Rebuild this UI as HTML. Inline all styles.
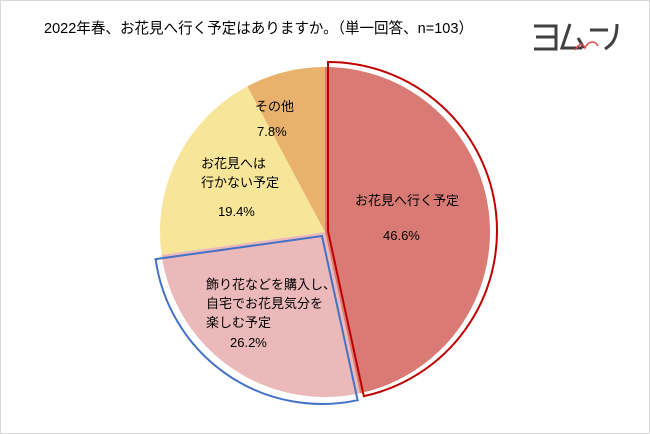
<!DOCTYPE html>
<html><head><meta charset="utf-8"><style>
body{margin:0;background:#fff;}
svg{display:block;font-family:"Liberation Sans","Noto Sans CJK JP",sans-serif;}
</style></head><body>
<svg id="c" width="650" height="434">
<rect x="0.5" y="0.5" width="649" height="433" fill="#fff" stroke="#d9d9d9"/>
<text x="44" y="33" font-size="15" fill="#000" textLength="429" lengthAdjust="spacingAndGlyphs">2022年春、お花見へ行く予定はありますか。（単一回答、n=103）</text>
<g fill="none" stroke="#404040" stroke-width="3">
<path d="M534 26h22v23h-22M536 37h20"/>
<path d="M570 24l-8 24h20M578 38l6 10"/>
<path d="M590 30h18"/>
<path d="M617 24c0 14-4 20-12 25"/>
<path d="M575 50c4-7 8-7 10-2c3-7 10-8 13-2" stroke="#d94c4c" stroke-width="1.5"/>
</g>
<g id="pie"></g>
</svg>
<script>
const categories=["お花見へ行く予定","飾り花などを購入し、自宅でお花見気分を楽しむ予定","お花見へは行かない予定","その他"];
const values=[46.6,26.2,19.4,7.8];
const colors=["#d97b74","#ebb9b9","#f7e59a","#e8b26c"];
const cx=325,cy=232,r=165;
const g=document.getElementById('pie');
const NS="http://www.w3.org/2000/svg";
function pt(x,y,rr,a){return [x+rr*Math.sin(a),y-rr*Math.cos(a)];}
function wedge(x,y,rr,a0,a1){const p0=pt(x,y,rr,a0),p1=pt(x,y,rr,a1);const lg=(a1-a0)>Math.PI?1:0;
return `M${x},${y}L${p0[0]},${p0[1]}A${rr},${rr} 0 ${lg} 1 ${p1[0]},${p1[1]}Z`;}
const total=values.reduce((a,b)=>a+b,0);
let acc=0;const angs=[];
values.forEach((v,i)=>{const a0=acc/total*2*Math.PI;acc+=v;const a1=acc/total*2*Math.PI;angs.push([a0,a1]);
const p=document.createElementNS(NS,'path');p.setAttribute('d',wedge(cx,cy,r,a0,a1));p.setAttribute('fill',colors[i]);


g.appendChild(p);});
const outl=[[0,"#c00000",3,-1,4],[1,"#4472c4",-3,4,3]];
outl.forEach(o=>{const [a0,a1]=angs[o[0]];const p=document.createElementNS(NS,'path');
p.setAttribute('d',wedge(cx+o[2],cy+o[3],r+o[4],a0,a1));p.setAttribute('fill','none');p.setAttribute('stroke',o[1]);p.setAttribute('stroke-width','2');


g.appendChild(p);});
const labels=[[["お花見へ行く予定"],355,205,383,240],[["飾り花などを購入し、","自宅でお花見気分を","楽しむ予定"],206,289,230,347],[["お花見へは","行かない予定"],201,168,218,216],[["その他"],255,111,257,136]];
labels.forEach((L,i)=>{L[0].forEach((s,j)=>{const t=document.createElementNS(NS,'text');t.setAttribute('x',L[1]);t.setAttribute('y',L[2]+j*19);t.setAttribute('font-size','13');t.textContent=s;


g.appendChild(t);});
const t=document.createElementNS(NS,'text');t.setAttribute('x',L[3]);t.setAttribute('y',L[4]);t.setAttribute('font-size','13');t.textContent=values[i].toFixed(1)+'%';


g.appendChild(t);});
</script>
</body></html>
